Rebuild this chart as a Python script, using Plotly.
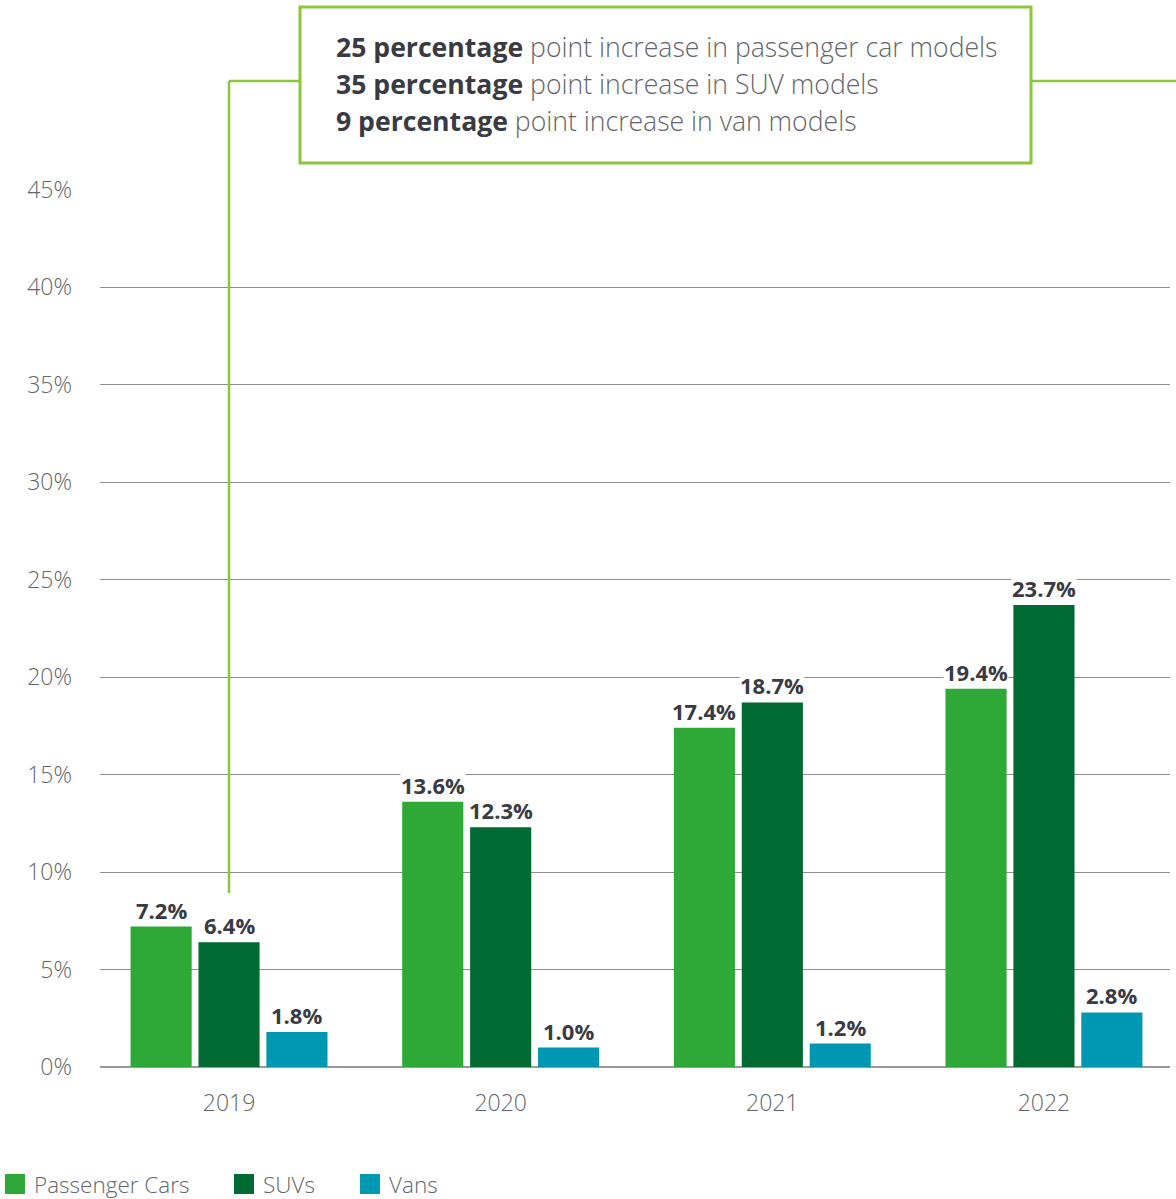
import plotly.graph_objects as go

years = ["2019", "2020", "2021", "2022"]
series_names = ["Passenger Cars", "SUVs", "Vans"]
passenger_cars = [7.2, 13.6, 17.4, 19.4]
suvs = [6.4, 12.3, 18.7, 23.7]
vans = [1.8, 1.0, 1.2, 2.8]
series_values = [passenger_cars, suvs, vans]
colors = ["#2EA836", "#006A32", "#0097B2"]
y_ticks = [0, 5, 10, 15, 20, 25, 30, 35, 40, 45]
callout_bold = ["25 percentage", "35 percentage", "9 percentage"]
callout_rest = ["point increase in passenger car models",
                "point increase in SUV models",
                "point increase in van models"]

FONT = "Open Sans"
DARK = "#393A42"
GRAY = "#63666A"
ACCENT = "#8CC63F"

BARGAP = 0.25
GROUPGAP = 0.1

fig = go.Figure()
for name, vals, col in zip(series_names, series_values, colors):
    fig.add_trace(go.Bar(x=years, y=vals, name=name, marker_color=col,
                         marker_line_width=0, showlegend=False))

# value labels with white background
slot = (1 - BARGAP) / len(series_names)
for si, vals in enumerate(series_values):
    off = (si - (len(series_names) - 1) / 2) * slot
    for ci, v in enumerate(vals):
        fig.add_annotation(x=ci + off, y=v, xref="x", yref="y",
                           text=f"<b>{v:.1f}%</b>", showarrow=False,
                           yanchor="bottom", yshift=1, bgcolor="white",
                           borderpad=0,
                           font=dict(family=FONT, size=22, color=DARK))

layout_h = 1199
plot_top, plot_bottom = 189, 1067
ph = plot_bottom - plot_top
pl, pr = 100, 1170
pw = pr - pl
Y_MAX = 45.03

def py(pix):
    return (plot_bottom - pix) / ph

def px(pix):
    return (pix - pl) / pw

# callout box
fig.add_shape(type="rect", xref="paper", yref="paper",
              x0=px(300), x1=px(1031), y0=py(163), y1=py(7),
              line=dict(color=ACCENT, width=3), fillcolor="white", layer="above")
fig.add_shape(type="line", xref="x", yref="paper", x0=0, x1=0,
              y0=py(893), y1=py(81), line=dict(color=ACCENT, width=2.5))
fig.add_shape(type="line", xref="paper", yref="paper", x0=px(229), x1=px(300),
              y0=py(81), y1=py(81), line=dict(color=ACCENT, width=2.5))
fig.add_shape(type="line", xref="paper", yref="paper", x0=px(1031), x1=px(1176),
              y0=py(81), y1=py(81), line=dict(color=ACCENT, width=2.5))
for i, (b, r) in enumerate(zip(callout_bold, callout_rest)):
    fig.add_annotation(xref="paper", yref="paper", x=px(334), y=py(47 + 37 * i),
                       xanchor="left", yanchor="middle", showarrow=False,
                       text=f"<b><span style='color:{DARK}'>{b}</span></b> {r}",
                       font=dict(family=FONT, size=26.6, color=GRAY, weight=300))

# manual legend
leg_y = 1184
leg_x = [5, 234, 360]
for name, col, lx in zip(series_names, colors, leg_x):
    fig.add_shape(type="rect", xref="paper", yref="paper",
                  x0=px(lx), x1=px(lx + 20), y0=py(leg_y + 10), y1=py(leg_y - 10),
                  fillcolor=col, line_width=0)
    fig.add_annotation(xref="paper", yref="paper", x=px(lx + 28), y=py(leg_y),
                       xanchor="left", yanchor="middle", showarrow=False,
                       borderpad=0,
                       text=name, font=dict(family=FONT, size=22.5, color=GRAY, weight=300))

fig.update_layout(
    width=1176, height=layout_h,
    margin=dict(l=pl, r=1176 - pr, t=plot_top, b=layout_h - plot_bottom),
    paper_bgcolor="white", plot_bgcolor="white",
    barmode="group", bargap=BARGAP, bargroupgap=GROUPGAP,
    font=dict(family=FONT, color=GRAY, weight=300),
    showlegend=False,
)
fig.update_xaxes(type="category", range=[-0.475, 3.464], showgrid=False,
                 showline=False, ticks="", ticklabelstandoff=20,
                 tickfont=dict(family=FONT, size=23, color=GRAY, weight=300))
fig.update_yaxes(range=[0, Y_MAX], tickvals=y_ticks,
                 ticktext=[f"{t}%" for t in y_ticks],
                 gridcolor="#8F8F8F", gridwidth=1, zeroline=True,
                 zerolinecolor="#9A9A9A", zerolinewidth=2, showline=False,
                 ticks="", ticklabelstandoff=27,
                 tickfont=dict(family=FONT, size=23, color=GRAY, weight=300))

fig.write_html("out.html", config={"displayModeBar": False},
               post_script="document.body.style.margin='0';document.body.style.overflow='hidden';")
